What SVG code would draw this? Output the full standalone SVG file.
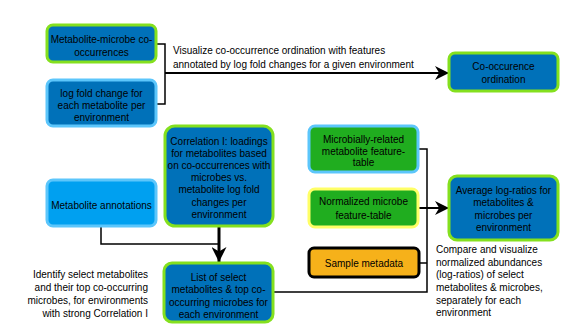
<svg xmlns="http://www.w3.org/2000/svg" width="561" height="324" viewBox="0 0 561 324">
<style>
.box{stroke-width:3}
.blue{fill:#0071b9}
.lblue{fill:#00a0f0}
.green{fill:#20ad1f}
.orange{fill:#f6b11a}
.sg{stroke:#84e01e}
.sb{stroke:#5cc6fb}
.sy{stroke:#ffff66}
.sk{stroke:#000}
text{font-family:"Liberation Sans",Arial,sans-serif;font-size:10px;fill:#000}
.c{text-anchor:middle}
.r{text-anchor:end}
.ln{fill:none;stroke:#000;stroke-width:1.5}
</style>
<defs>
<marker id="ah" viewBox="0 0 10 10" refX="10" refY="5" markerWidth="7" markerHeight="7" markerUnits="strokeWidth" orient="auto">
<path d="M0,0 L10,5 L0,10 L3,5 Z" fill="#000"/>
</marker>
<marker id="ah2" viewBox="0 0 10 10" refX="10" refY="5" markerWidth="5" markerHeight="5" markerUnits="strokeWidth" orient="auto">
<path d="M0,0 L10,5 L0,10 L3,5 Z" fill="#000"/>
</marker>
</defs>
<g id="connectors">
<path class="ln" d="M156,44 H165 V104 H156"/>
<path d="M165,73 H449" fill="none" stroke="#000" stroke-width="2" marker-end="url(#ah)"/>
<path class="ln" d="M101,227 V244 H219"/>
<path d="M219,227 V262" fill="none" stroke="#000" stroke-width="3" marker-end="url(#ah2)"/>
<path class="ln" d="M418,149 H427 V292 H273"/>
<path class="ln" d="M419,263 H427"/>
<path d="M418,208 H449" fill="none" stroke="#000" stroke-width="2" marker-end="url(#ah)"/>
</g>
<g id="n1">
<rect class="box blue sg" x="47" y="25" width="109" height="37" rx="6"/>
<text class="c" x="101.5" y="42.5">Metabolite-microbe co-</text>
<text class="c" x="101.5" y="55.5">occurrences</text>
</g>
<g id="n2">
<rect class="box blue sb" x="47" y="80" width="109" height="46" rx="6"/>
<text class="c" x="101.5" y="96.5">log fold change for</text>
<text class="c" x="101.5" y="108.5">each metabolite per</text>
<text class="c" x="101.5" y="120.5">environment</text>
</g>
<g id="n3">
<rect class="box blue sg" x="449" y="53" width="109" height="38" rx="6"/>
<text class="c" x="503.5" y="69.5">Co-occurence</text>
<text class="c" x="503.5" y="83">ordination</text>
</g>
<g id="label1">
<text x="173" y="54">Visualize co-occurrence ordination with features</text>
<text x="173" y="68">annotated by log fold changes for a given environment</text>
</g>
<g id="n4">
<rect class="box blue sg" x="165" y="126" width="108" height="100" rx="10"/>
<text class="c" x="219" y="144.5">Correlation I: loadings</text>
<text class="c" x="219" y="156.7">for metabolites based</text>
<text class="c" x="219" y="168.9">on co-occurrences with</text>
<text class="c" x="219" y="181.1">microbes vs.</text>
<text class="c" x="219" y="193.3">metabolite log fold</text>
<text class="c" x="219" y="205.5">changes per</text>
<text class="c" x="219" y="217.7">environment</text>
</g>
<g id="n5">
<rect class="box lblue sb" x="47" y="180" width="109" height="46" rx="6"/>
<text class="c" x="101.5" y="209">Metabolite annotations</text>
</g>
<g id="n6">
<rect class="box blue sg" x="164" y="263" width="109" height="59" rx="8"/>
<text class="c" x="218.5" y="280.5">List of select</text>
<text class="c" x="218.5" y="293">metabolites &amp; top co-</text>
<text class="c" x="218.5" y="305.5">occurring microbes for</text>
<text class="c" x="218.5" y="318">each environment</text>
</g>
<g id="label2">
<text class="r" x="148" y="278">Identify select metabolites</text>
<text class="r" x="148" y="291">and their top co-occurring</text>
<text class="r" x="148" y="304">microbes, for environments</text>
<text class="r" x="148" y="317">with strong Correlation I</text>
</g>
<g id="n7">
<rect class="box green sb" x="309" y="126" width="109" height="46" rx="6"/>
<text class="c" x="363.5" y="143">Microbially-related</text>
<text class="c" x="363.5" y="154.5">metabolite feature-</text>
<text class="c" x="363.5" y="166">table</text>
</g>
<g id="n8">
<rect class="box green sy" x="309" y="189" width="109" height="38" rx="6"/>
<text class="c" x="363.5" y="205">Normalized microbe</text>
<text class="c" x="363.5" y="219">feature-table</text>
</g>
<g id="n9">
<rect class="box orange sk" x="309" y="248" width="110" height="29" rx="5"/>
<text class="c" x="364" y="266.5">Sample metadata</text>
</g>
<g id="n10">
<rect class="box blue sg" x="449" y="176" width="109" height="64" rx="8"/>
<text class="c" x="503.5" y="193.5">Average log-ratios for</text>
<text class="c" x="503.5" y="206">metabolites &amp;</text>
<text class="c" x="503.5" y="219">microbes per</text>
<text class="c" x="503.5" y="231">environment</text>
</g>
<g id="label3">
<text x="436" y="253">Compare and visualize</text>
<text x="436" y="265.5">normalized abundances</text>
<text x="436" y="278">(log-ratios) of select</text>
<text x="436" y="291">metabolites &amp; microbes,</text>
<text x="436" y="303.5">separately for each</text>
<text x="436" y="316">environment</text>
</g>
</svg>
